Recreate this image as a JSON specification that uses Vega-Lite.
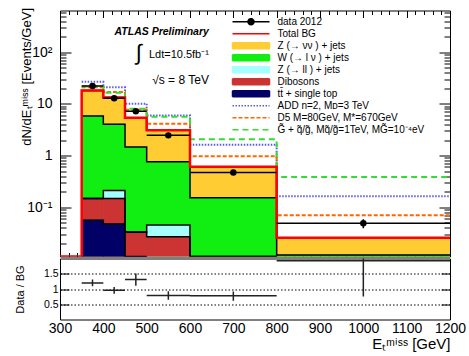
{
  "$schema": "https://vega.github.io/schema/vega-lite/v6.json",
  "background": "white",
  "padding": {"left": 14, "top": 6.5, "right": 5, "bottom": 5},
  "spacing": 0,
  "config": {
    "view": {"stroke": "black", "strokeWidth": 1},
    "font": "Liberation Sans",
    "axis": {"labelFont": "Liberation Sans", "titleFont": "Liberation Sans", "labelColor": "black", "titleColor": "black", "tickColor": "black", "tickWidth": 1, "domain": false, "grid": false, "titleFontWeight": "normal", "zindex": 1, "labelOverlap": false, "labelFlush": false},
    "legend": {"orient": "none", "legendX": 185, "legendY": 5.2, "title": null, "symbolSize": 100, "symbolStrokeWidth": 1.5, "symbolOpacity": 1, "labelFont": "Liberation Sans", "labelFontSize": 10, "labelColor": "black", "labelOffset": 20.5, "labelLimit": 0, "rowPadding": 0, "padding": 0}
  },
  "datasets": {
    "comps": [
      {"series": "Z (→ νν ) + jets", "lo": 350, "hi": 400, "top": 18.3},
      {"series": "Z (→ νν ) + jets", "lo": 400, "hi": 450, "top": 13.4},
      {"series": "Z (→ νν ) + jets", "lo": 450, "hi": 500, "top": 5.4},
      {"series": "Z (→ νν ) + jets", "lo": 500, "hi": 600, "top": 3.08},
      {"series": "Z (→ νν ) + jets", "lo": 600, "hi": 800, "top": 0.607},
      {"series": "Z (→ νν ) + jets", "lo": 800, "hi": 1200, "top": 0.0255},
      {"series": "W (→ l ν ) + jets", "lo": 350, "hi": 400, "top": 5.83},
      {"series": "W (→ l ν ) + jets", "lo": 400, "hi": 450, "top": 4.05},
      {"series": "W (→ l ν ) + jets", "lo": 450, "hi": 500, "top": 1.46},
      {"series": "W (→ l ν ) + jets", "lo": 500, "hi": 600, "top": 0.76},
      {"series": "W (→ l ν ) + jets", "lo": 600, "hi": 800, "top": 0.152},
      {"series": "W (→ l ν ) + jets", "lo": 800, "hi": 1200, "top": 0.0118},
      {"series": "Z (→ ll ) + jets", "lo": 350, "hi": 400, "top": 0.146},
      {"series": "Z (→ ll ) + jets", "lo": 400, "hi": 450, "top": 0.21},
      {"series": "Z (→ ll ) + jets", "lo": 450, "hi": 500, "top": 0.033},
      {"series": "Z (→ ll ) + jets", "lo": 500, "hi": 600, "top": 0.045},
      {"series": "Z (→ ll ) + jets", "lo": 600, "hi": 800, "top": 0},
      {"series": "Dibosons", "lo": 350, "hi": 400, "top": 0.146},
      {"series": "Dibosons", "lo": 400, "hi": 450, "top": 0.147},
      {"series": "Dibosons", "lo": 450, "hi": 500, "top": 0.0329},
      {"series": "Dibosons", "lo": 500, "hi": 600, "top": 0.0267},
      {"series": "Dibosons", "lo": 600, "hi": 800, "top": 0},
      {"series": "tt\u0304 + single top", "lo": 350, "hi": 400, "top": 0.0555},
      {"series": "tt\u0304 + single top", "lo": 400, "hi": 450, "top": 0.047},
      {"series": "tt\u0304 + single top", "lo": 450, "hi": 500, "top": 0}
    ],
    "bg": [
      {"series": "Total BG", "lo": 300, "hi": 350, "top": 0},
      {"series": "Total BG", "lo": 350, "hi": 400, "top": 18.3},
      {"series": "Total BG", "lo": 400, "hi": 450, "top": 13.4},
      {"series": "Total BG", "lo": 450, "hi": 500, "top": 5.4},
      {"series": "Total BG", "lo": 500, "hi": 600, "top": 3.08},
      {"series": "Total BG", "lo": 600, "hi": 800, "top": 0.607},
      {"series": "Total BG", "lo": 800, "hi": 1200, "top": 0.0255}
    ],
    "sig": [
      {"series": "ADD n=2, Mᴅ=3 TeV", "lo": 350, "hi": 400, "top": 26.9},
      {"series": "ADD n=2, Mᴅ=3 TeV", "lo": 400, "hi": 450, "top": 21.0},
      {"series": "ADD n=2, Mᴅ=3 TeV", "lo": 450, "hi": 500, "top": 10.1},
      {"series": "ADD n=2, Mᴅ=3 TeV", "lo": 500, "hi": 600, "top": 6.0},
      {"series": "ADD n=2, Mᴅ=3 TeV", "lo": 600, "hi": 800, "top": 1.62},
      {"series": "ADD n=2, Mᴅ=3 TeV", "lo": 800, "hi": 1200, "top": 0.162},
      {"series": "D5 M=80GeV, M*=670GeV", "lo": 350, "hi": 400, "top": 21.0},
      {"series": "D5 M=80GeV, M*=670GeV", "lo": 400, "hi": 450, "top": 17.0},
      {"series": "D5 M=80GeV, M*=670GeV", "lo": 450, "hi": 500, "top": 7.7},
      {"series": "D5 M=80GeV, M*=670GeV", "lo": 500, "hi": 600, "top": 4.13},
      {"series": "D5 M=80GeV, M*=670GeV", "lo": 600, "hi": 800, "top": 0.965},
      {"series": "D5 M=80GeV, M*=670GeV", "lo": 800, "hi": 1200, "top": 0.0693},
      {"series": "G\u0303 + q\u0303/g\u0303, Mq\u0303/g\u0303=1TeV, MG\u0303=10\u207b\u2074eV", "lo": 350, "hi": 400, "top": 21.8},
      {"series": "G\u0303 + q\u0303/g\u0303, Mq\u0303/g\u0303=1TeV, MG\u0303=10\u207b\u2074eV", "lo": 400, "hi": 450, "top": 16.5},
      {"series": "G\u0303 + q\u0303/g\u0303, Mq\u0303/g\u0303=1TeV, MG\u0303=10\u207b\u2074eV", "lo": 450, "hi": 500, "top": 8.07},
      {"series": "G\u0303 + q\u0303/g\u0303, Mq\u0303/g\u0303=1TeV, MG\u0303=10\u207b\u2074eV", "lo": 500, "hi": 600, "top": 5.65},
      {"series": "G\u0303 + q\u0303/g\u0303, Mq\u0303/g\u0303=1TeV, MG\u0303=10\u207b\u2074eV", "lo": 600, "hi": 800, "top": 2.06},
      {"series": "G\u0303 + q\u0303/g\u0303, Mq\u0303/g\u0303=1TeV, MG\u0303=10\u207b\u2074eV", "lo": 800, "hi": 1200, "top": 0.383}
    ],
    "obs": [
      {"x": 375, "lo": 350, "hi": 400, "v": 22.2, "vlo": 21.5, "vhi": 22.9},
      {"x": 425, "lo": 400, "hi": 450, "v": 12.9, "vlo": 12.4, "vhi": 13.4},
      {"x": 475, "lo": 450, "hi": 500, "v": 7.19, "vlo": 6.8, "vhi": 7.6},
      {"x": 550, "lo": 500, "hi": 600, "v": 2.46, "vlo": 2.3, "vhi": 2.62},
      {"x": 700, "lo": 600, "hi": 800, "v": 0.47, "vlo": 0.42, "vhi": 0.52},
      {"x": 1000, "lo": 800, "hi": 1200, "v": 0.0485, "vlo": 0.039, "vhi": 0.058}
    ],
    "ratio": [
      {"x": 375, "lo": 350, "hi": 400, "r": 1.2, "rlo": 1.09, "rhi": 1.31},
      {"x": 425, "lo": 400, "hi": 450, "r": 0.955, "rlo": 0.845, "rhi": 1.065},
      {"x": 475, "lo": 450, "hi": 500, "r": 1.31, "rlo": 1.11, "rhi": 1.51},
      {"x": 550, "lo": 500, "hi": 600, "r": 0.79, "rlo": 0.645, "rhi": 0.925},
      {"x": 700, "lo": 600, "hi": 800, "r": 0.777, "rlo": 0.615, "rhi": 0.92},
      {"x": 1000, "lo": 800, "hi": 1200, "r": 1.93, "rlo": 0.757, "rhi": 3.1}
    ]
  },
  "vconcat": [
    {
      "width": 390,
      "height": 246,
      "resolve": {"axis": {"x": "independent", "y": "independent"}},
      "layer": [
        {
          "data": {"name": "comps"},
          "mark": {"type": "bar", "clip": true, "opacity": 1, "strokeWidth": 0.8, "binSpacing": 0},
          "encoding": {
            "x": {"field": "lo", "type": "quantitative", "scale": {"domain": [300, 1200], "nice": false, "zero": false},
                  "axis": {"orient": "bottom", "values": [300, 400, 500, 600, 700, 800, 900, 1000, 1100, 1200], "labels": false, "tickSize": -7, "title": null}},
            "x2": {"field": "hi"},
            "y": {"field": "top", "type": "quantitative", "scale": {"type": "log", "domain": [0.011, 650], "nice": false, "clamp": true},
                  "axis": {"orient": "left", "values": [0.1, 1, 10, 100], "labelExpr": "datum.value >= 100 ? '10²' : datum.value >= 10 ? '10' : datum.value >= 1 ? '1' : '10⁻¹'", "tickSize": -11, "labelPadding": 19, "labelFontSize": 14, "title": "dN/dEₜᵐⁱˢˢ [Events/GeV]", "titleFontSize": 13, "titleX": -26.5, "titleY": -3, "titleAlign": "right", "titleAngle": 270, "titleBaseline": "bottom"}},
            "y2": {"datum": 0.011},
            "color": {
              "field": "series", "type": "nominal",
              "scale": {
                "domain": ["data 2012", "Total BG", "Z (→ νν ) + jets", "W (→ l ν ) + jets", "Z (→ ll ) + jets", "Dibosons", "tt\u0304 + single top", "ADD n=2, Mᴅ=3 TeV", "D5 M=80GeV, M*=670GeV", "G\u0303 + q\u0303/g\u0303, Mq\u0303/g\u0303=1TeV, MG\u0303=10\u207b\u2074eV"],
                "range": ["#000000", "#FF0000", "#FFCC33", "#11EE11", "#A6FFFF", "#CC3333", "#000066", "#5A5AE6", "#FF6600", "#33DD33"]
              }
            },
            "stroke": {
              "field": "series", "type": "nominal", "legend": null,
              "scale": {
                "domain": ["Z (→ νν ) + jets", "W (→ l ν ) + jets", "Z (→ ll ) + jets", "Dibosons", "tt\u0304 + single top"],
                "range": ["#FFCC33", "#11EE11", "#A6FFFF", "#CC3333", "#000066"]
              }
            }
          }
        },
        {
          "data": {"values": []},
          "mark": {"type": "point", "filled": true},
          "encoding": {
            "shape": {
              "field": "series", "type": "nominal",
              "scale": {
                "domain": ["data 2012", "Total BG", "Z (→ νν ) + jets", "W (→ l ν ) + jets", "Z (→ ll ) + jets", "Dibosons", "tt\u0304 + single top", "ADD n=2, Mᴅ=3 TeV", "D5 M=80GeV, M*=670GeV", "G\u0303 + q\u0303/g\u0303, Mq\u0303/g\u0303=1TeV, MG\u0303=10\u207b\u2074eV"],
                "range": ["M-3.7,-0.6M-3.7,0.6M-3.7,0H3.7M-0.6,0A0.6,0.6 0 1,0 0.6,0A0.6,0.6 0 1,0 -0.6,0", "M-3.7,-0.6M-3.7,0.6M-3.7,0H3.7", "M-3.7,-0.6H3.7V0.6H-3.7Z", "M-3.7,-0.6H3.7V0.6H-3.7Z", "M-3.7,-0.6H3.7V0.6H-3.7Z", "M-3.7,-0.6H3.7V0.6H-3.7Z", "M-3.7,-0.6H3.7V0.6H-3.7Z", "M-3.7,-0.6M-3.7,0.6M-3.7,0H3.7", "M-3.7,-0.6M-3.7,0.6M-3.7,0H3.7", "M-3.7,-0.6M-3.7,0.6M-3.7,0H3.7"]
              }
            }
          }
        },
        {
          "data": {"name": "comps"},
          "transform": [{"fold": ["lo", "hi"], "as": ["ek", "edge"]}],
          "mark": {"type": "line", "color": "black", "strokeWidth": 1.5, "clip": true},
          "encoding": {
            "x": {"field": "edge", "type": "quantitative", "scale": {"domain": [300, 1200], "nice": false, "zero": false},
                  "axis": {"orient": "top", "values": [300, 400, 500, 600, 700, 800, 900, 1000, 1100, 1200], "labels": false, "tickSize": -7, "title": null}},
            "y": {"field": "top", "type": "quantitative", "scale": {"type": "log", "domain": [0.011, 650], "nice": false, "clamp": true},
                  "axis": {"orient": "right", "values": [0.1, 1, 10, 100], "labels": false, "tickSize": -11, "title": null}},
            "detail": {"field": "series", "type": "nominal"},
            "order": [{"field": "edge", "type": "quantitative"}, {"field": "ek", "type": "ordinal"}]
          }
        },
        {
          "data": {"name": "sig"},
          "transform": [{"fold": ["lo", "hi"], "as": ["ek", "edge"]}],
          "mark": {"type": "line", "strokeWidth": 2, "clip": true},
          "encoding": {
            "x": {"field": "edge", "type": "quantitative", "scale": {"domain": [300, 1200], "nice": false, "zero": false},
                  "axis": {"orient": "bottom", "values": [320,340,360,380,420,440,460,480,520,540,560,580,620,640,660,680,720,740,760,780,820,840,860,880,920,940,960,980,1020,1040,1060,1080,1120,1140,1160,1180], "labels": false, "tickSize": -4, "title": null}},
            "y": {"field": "top", "type": "quantitative", "scale": {"type": "log", "domain": [0.011, 650], "nice": false, "clamp": true},
                  "axis": {"orient": "left", "values": [0.02,0.03,0.04,0.05,0.06,0.07,0.08,0.09,0.2,0.3,0.4,0.5,0.6,0.7,0.8,0.9,2,3,4,5,6,7,8,9,20,30,40,50,60,70,80,90,200,300,400,500,600], "labels": false, "tickSize": -6, "title": null}},
            "color": {"field": "series", "type": "nominal"},
            "strokeDash": {"field": "series", "type": "nominal",
              "scale": {
                "domain": ["data 2012", "Total BG", "Z (→ νν ) + jets", "W (→ l ν ) + jets", "Z (→ ll ) + jets", "Dibosons", "tt\u0304 + single top", "ADD n=2, Mᴅ=3 TeV", "D5 M=80GeV, M*=670GeV", "G\u0303 + q\u0303/g\u0303, Mq\u0303/g\u0303=1TeV, MG\u0303=10\u207b\u2074eV"],
                "range": [[1, 0], [1, 0], [1, 0], [1, 0], [1, 0], [1, 0], [1, 0], [1.5, 1.5], [4, 2], [6, 4]]
              }},
            "order": [{"field": "edge", "type": "quantitative"}, {"field": "ek", "type": "ordinal"}]
          }
        },
        {
          "data": {"name": "bg"},
          "transform": [{"fold": ["lo", "hi"], "as": ["ek", "edge"]}],
          "mark": {"type": "line", "strokeWidth": 2.5, "clip": true},
          "encoding": {
            "x": {"field": "edge", "type": "quantitative", "scale": {"domain": [300, 1200], "nice": false, "zero": false},
                  "axis": {"orient": "top", "values": [320,340,360,380,420,440,460,480,520,540,560,580,620,640,660,680,720,740,760,780,820,840,860,880,920,940,960,980,1020,1040,1060,1080,1120,1140,1160,1180], "labels": false, "tickSize": -4, "title": null}},
            "y": {"field": "top", "type": "quantitative", "scale": {"type": "log", "domain": [0.011, 650], "nice": false, "clamp": true},
                  "axis": {"orient": "right", "values": [0.02,0.03,0.04,0.05,0.06,0.07,0.08,0.09,0.2,0.3,0.4,0.5,0.6,0.7,0.8,0.9,2,3,4,5,6,7,8,9,20,30,40,50,60,70,80,90,200,300,400,500,600], "labels": false, "tickSize": -6, "title": null}},
            "color": {"field": "series", "type": "nominal"},
            "order": [{"field": "edge", "type": "quantitative"}, {"field": "ek", "type": "ordinal"}]
          }
        },
        {
          "data": {"name": "obs"},
          "mark": {"type": "rule", "color": "black", "strokeWidth": 1.5, "clip": true},
          "encoding": {
            "x": {"field": "lo", "type": "quantitative", "axis": null},
            "x2": {"field": "hi"},
            "y": {"field": "v", "type": "quantitative", "axis": null}
          }
        },
        {
          "data": {"name": "obs"},
          "mark": {"type": "rule", "color": "black", "strokeWidth": 1.5, "clip": true},
          "encoding": {
            "x": {"field": "x", "type": "quantitative", "axis": null},
            "y": {"field": "vlo", "type": "quantitative", "axis": null},
            "y2": {"field": "vhi"}
          }
        },
        {
          "data": {"name": "obs"},
          "mark": {"type": "circle", "size": 42, "color": "black", "opacity": 1},
          "encoding": {
            "x": {"field": "x", "type": "quantitative", "axis": null},
            "y": {"field": "v", "type": "quantitative", "axis": null}
          }
        },
        {
          "data": {"values": [{}]},
          "mark": {"type": "text", "text": "ATLAS Preliminary", "font": "Liberation Sans", "fontSize": 10.5, "fontStyle": "italic", "fontWeight": "bold", "align": "right", "baseline": "alphabetic", "color": "black"},
          "encoding": {
            "x": {"datum": 643.6, "type": "quantitative", "axis": null},
            "y": {"datum": 213, "type": "quantitative", "axis": null}
          }
        },
        {
          "data": {"values": [{}]},
          "mark": {"type": "text", "text": "Ldt=10.5fb⁻¹", "font": "Liberation Sans", "fontSize": 11, "align": "right", "baseline": "alphabetic", "color": "black"},
          "encoding": {
            "x": {"datum": 643.6, "type": "quantitative", "axis": null},
            "y": {"datum": 76.5, "type": "quantitative", "axis": null}
          }
        },
        {
          "data": {"values": [{}]},
          "mark": {"type": "text", "text": "∫", "font": "Liberation Sans", "fontSize": 22, "align": "center", "baseline": "middle", "color": "black"},
          "encoding": {
            "x": {"datum": 482, "type": "quantitative", "axis": null},
            "y": {"datum": 97, "type": "quantitative", "axis": null}
          }
        },
        {
          "data": {"values": [{}]},
          "mark": {"type": "text", "text": "√s = 8 TeV", "font": "Liberation Sans", "fontSize": 12, "align": "right", "baseline": "alphabetic", "color": "black"},
          "encoding": {
            "x": {"datum": 643.6, "type": "quantitative", "axis": null},
            "y": {"datum": 24.6, "type": "quantitative", "axis": null}
          }
        }
      ]
    },
    {
      "width": 390,
      "height": 61,
      "resolve": {"axis": {"x": "independent", "y": "independent"}},
      "layer": [
        {
          "data": {"name": "ratio"},
          "mark": {"type": "rule", "color": "#222222", "strokeWidth": 1.5, "clip": true},
          "encoding": {
            "x": {"field": "lo", "type": "quantitative", "scale": {"domain": [300, 1200], "nice": false, "zero": false},
                  "axis": {"orient": "bottom", "values": [300, 400, 500, 600, 700, 800, 900, 1000, 1100, 1200], "format": "d", "ticks": false, "labelPadding": 2, "labelFontSize": 14, "title": "Eₜᵐⁱˢˢ [GeV]", "titleFontSize": 15, "titleAlign": "right", "titleX": 390, "titleY": 17, "titleBaseline": "top"}},
            "x2": {"field": "hi"},
            "y": {"field": "r", "type": "quantitative", "scale": {"domain": [0, 2], "nice": false},
                  "axis": {"orient": "left", "values": [0.5, 1, 1.5], "format": "~g", "tickSize": -9, "labelPadding": 11, "labelFontSize": 10.5, "grid": true, "gridColor": "black", "gridDash": [1.5, 2], "gridWidth": 1, "title": "Data / BG", "titleFontSize": 11, "titleX": -34.5}}
          }
        },
        {
          "data": {"name": "ratio"},
          "mark": {"type": "rule", "color": "#222222", "strokeWidth": 1.5, "clip": true},
          "encoding": {
            "x": {"field": "x", "type": "quantitative", "scale": {"domain": [300, 1200], "nice": false, "zero": false}, "axis": null},
            "y": {"field": "rlo", "type": "quantitative", "scale": {"domain": [0, 2], "nice": false},
                  "axis": {"orient": "right", "values": [0.5, 1, 1.5], "labels": false, "tickSize": -9, "title": null}},
            "y2": {"field": "rhi"}
          }
        }
      ]
    }
  ]
}
